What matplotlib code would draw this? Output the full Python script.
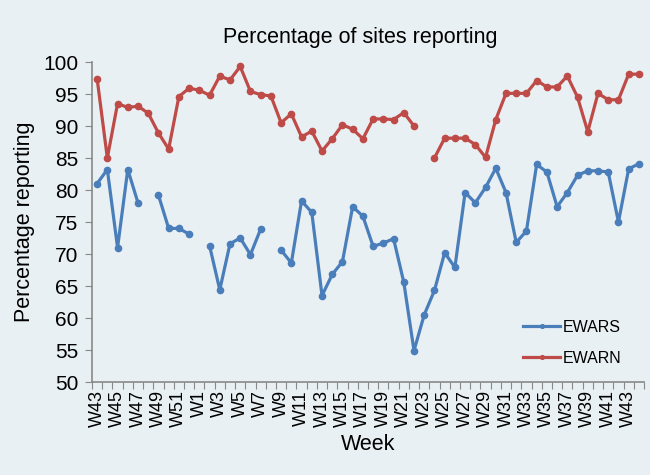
import matplotlib.pyplot as plt
import numpy as np

# week labels: W43..W52 then W1..W44
weeks = ["W%d" % w for w in range(43, 53)] + ["W%d" % w for w in range(1, 45)]

# percentage of sites reporting (None = no data)
ewars = [81.0, 83.2, 71.0, 83.2, 78.0, None, 79.2, 74.0, 74.0, 73.1,
         None, 71.3, 64.4, 71.6, 72.5, 69.9, 73.9, None, 70.6, 68.6,
         78.3, 76.5, 63.5, 66.8, 68.8, 77.4, 75.9, 71.2, 71.7, 72.4,
         65.6, 54.9, 60.5, 64.3, 70.2, 67.9, 79.6, 78.0, 80.4, 83.4,
         79.6, 71.8, 73.6, 84.0, 82.8, 77.4, 79.6, 82.3, 83.0, 83.0,
         82.8, 75.0, 83.3, 84.1]
ewarn = [97.4, 85.0, 93.5, 92.9, 93.1, 92.0, 88.9, 86.4, 94.6, 95.9,
         95.6, 94.8, 97.8, 97.2, 99.3, 95.4, 94.9, 94.7, 90.5, 91.9,
         88.3, 89.2, 86.1, 88.0, 90.2, 89.5, 88.0, 91.1, 91.1, 91.0,
         92.1, 90.0, None, 85.0, 88.1, 88.1, 88.1, 87.1, 85.1, 91.0,
         95.1, 95.1, 95.1, 97.1, 96.1, 96.1, 97.8, 94.5, 89.1, 95.1,
         94.1, 94.1, 98.1, 98.1]

bg = "#e9f0f3"
blue = "#4a7ebb"
red = "#be4b48"

plt.rcParams['font.family'] = ['Liberation Sans', 'DejaVu Sans']

fig = plt.figure(figsize=(6.5, 4.75), dpi=100, facecolor=bg)
ax = fig.add_axes([92/650, 93/475, 552/650, 320/475], facecolor=bg)

x = np.arange(len(weeks))
s = np.array([np.nan if v is None else v for v in ewars])
n = np.array([np.nan if v is None else v for v in ewarn])

ax.plot(x, s, color=blue, linewidth=2.3, marker="o", markersize=4.5, label="EWARS")
ax.plot(x, n, color=red, linewidth=2.3, marker="o", markersize=4.5, label="EWARN")

ax.set_xlim(-0.5, len(weeks) - 0.5)
ax.set_ylim(50, 100)
ax.set_yticks(np.arange(50, 101, 5))

# tick marks between categories, labels on every second week
ax.set_xticks(np.arange(-0.5, len(weeks), 1.0))
ax.set_xticklabels([])
ax.set_xticks(x[::2], minor=True)
ax.set_xticklabels(weeks[::2], minor=True, rotation=90)
ax.tick_params(axis="x", which="major", length=5, color="#888888")
ax.tick_params(axis="x", which="minor", length=0, labelsize=13, pad=6)
ax.tick_params(axis="y", length=5, color="#888888", labelsize=15, pad=5)

for side in ["top", "right"]:
    ax.spines[side].set_visible(False)
for side in ["left", "bottom"]:
    ax.spines[side].set_color("#888888")
    ax.spines[side].set_linewidth(1.2)

fig.text(360/650, 1 - 38/475, "Percentage of sites reporting", fontsize=15.5,
         ha="center", va="center")
fig.text(25/650, 1 - 222/475, "Percentage reporting", fontsize=15.5,
         rotation=90, ha="center", va="center")
fig.text(368/650, 1 - 445/475, "Week", fontsize=15.5, ha="center", va="center")

ax.legend(loc="upper left", bbox_to_anchor=(0.755, 0.24), frameon=False,
          fontsize=11.5, handlelength=2.3, labelspacing=1.0, handletextpad=0.2,
          markerscale=0.6)

fig.savefig("out.png", dpi=100, facecolor=bg)
